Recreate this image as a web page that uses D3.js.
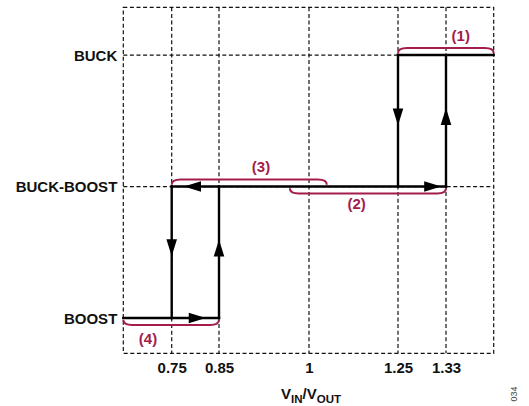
<!DOCTYPE html>
<html>
<head>
<meta charset="utf-8">
<script src="https://cdn.jsdelivr.net/npm/d3@7"></script>
<style>
  html, body { margin: 0; padding: 0; background: #fff; }
  svg { display: block; font-family: "Liberation Sans", Arial, sans-serif; }
</style>
</head>
<body>
<svg id="chart" width="529" height="406"></svg>
<script>
// ---- data ----
const levels = ["BOOST", "BUCK-BOOST", "BUCK"];          // operating modes (bottom → top)
const xTicks = [0.75, 0.85, 1, 1.25, 1.33];               // labelled VIN/VOUT thresholds
const xTickLabels = ["0.75", "0.85", "1", "1.25", "1.33"];
const xEdges = [0.65, 1.43];                               // unlabelled extent of the grid
// hysteresis transfer path: [x0, mode0, x1, mode1]
const pathSegments = [
  [1.25, "BUCK", 1.43, "BUCK"],
  [1.25, "BUCK", 1.25, "BUCK-BOOST"],
  [1.33, "BUCK-BOOST", 1.33, "BUCK"],
  [0.75, "BUCK-BOOST", 1.33, "BUCK-BOOST"],
  [0.75, "BUCK-BOOST", 0.75, "BOOST"],
  [0.85, "BOOST", 0.85, "BUCK-BOOST"],
  [0.65, "BOOST", 0.85, "BOOST"]
];
// arrow tips: x (VIN/VOUT), level position (0 = BOOST … 2 = BUCK), direction
const arrowX = [1.25, 1.33, 0.776, 1.322, 0.75, 0.85, 0.822];
const arrowLevel = [1.464, 1.597, 1, 1, 0.47, 0.597, 0];
const arrowDir = ["down", "up", "left", "right", "down", "up", "right"];
// annotated ranges
const braceLabels = ["(1)", "(2)", "(3)", "(4)"];
const braceFrom = [1.25, 0.968, 0.75, 0.65];
const braceTo = [1.43, 1.33, 1.05, 0.85];
const braceMode = ["BUCK", "BUCK-BOOST", "BUCK-BOOST", "BOOST"];
const braceSide = ["above", "below", "above", "below"];
const braceLabelX = [1.361, 1.134, 0.92, 0.701];

// ---- scales ----
const svg = d3.select("#chart");
const W = 529, H = 406;
svg.append("rect").attr("width", W).attr("height", H).attr("fill", "#fff");

const x = d3.scaleLinear()
  .domain([xEdges[0], ...xTicks, xEdges[1]])
  .range([123.3, 171.7, 219, 309, 398, 446, 493.7]);
const y = d3.scaleLinear().domain([-0.268, 2.363]).range([353.3, 7.3]);
const lv = m => levels.indexOf(m);

const magenta = "#a31c4c";
const dash = "4,2.6";

// ---- grid ----
const grid = svg.append("g").attr("stroke", "#111").attr("stroke-width", 1.2)
  .attr("stroke-dasharray", dash).attr("fill", "none");
grid.append("rect")
  .attr("x", x(xEdges[0])).attr("y", y(y.domain()[1]))
  .attr("width", x(xEdges[1]) - x(xEdges[0]))
  .attr("height", y(y.domain()[0]) - y(y.domain()[1]));
grid.selectAll("line.v").data(xTicks).join("line").attr("class", "v")
  .attr("x1", d => x(d)).attr("x2", d => x(d))
  .attr("y1", y(y.domain()[1])).attr("y2", y(y.domain()[0]));
grid.selectAll("line.h").data(["BUCK", "BUCK-BOOST"]).join("line").attr("class", "h")
  .attr("x1", x(xEdges[0])).attr("x2", x(xEdges[1]))
  .attr("y1", d => y(lv(d))).attr("y2", d => y(lv(d)));

// ---- axes (labels) ----
const xAxis = d3.axisBottom(x).tickValues(xTicks)
  .tickFormat((d, i) => xTickLabels[i]).tickSize(0).tickPadding(0);
const gx = svg.append("g").attr("transform", `translate(0,${y(y.domain()[0])})`).call(xAxis);
gx.select(".domain").remove();
gx.selectAll("text").attr("dy", null).attr("y", 20.2)
  .attr("font-size", 15).attr("font-weight", "bold").attr("fill", "#111")
  .attr("font-family", "Liberation Sans, Arial, sans-serif");

const yAxis = d3.axisLeft(y).tickValues([0, 1, 2])
  .tickFormat(d => levels[d]).tickSize(0).tickPadding(6);
const gy = svg.append("g").attr("transform", `translate(${x(xEdges[0])},0)`).call(yAxis);
gy.select(".domain").remove();
gy.selectAll("text").attr("dy", "0.36em")
  .attr("font-size", 15).attr("font-weight", "bold").attr("fill", "#111")
  .attr("font-family", "Liberation Sans, Arial, sans-serif");

// ---- hysteresis path ----
svg.append("g").attr("stroke", "#000").attr("stroke-width", 2.4).attr("stroke-linecap", "square")
  .selectAll("line").data(pathSegments).join("line")
  .attr("x1", d => x(d[0])).attr("y1", d => y(lv(d[1])))
  .attr("x2", d => x(d[2])).attr("y2", d => y(lv(d[3])));

// arrowheads
const aLen = 17, aHalf = 5.3;
const arrows = arrowX.map((v, i) => ({ x: v, l: arrowLevel[i], dir: arrowDir[i] }));
svg.append("g").attr("fill", "#000").selectAll("path").data(arrows).join("path")
  .attr("d", d => {
    const tx = x(d.x), ty = y(d.l);
    if (d.dir === "down") return `M${tx},${ty}L${tx - aHalf},${ty - aLen}L${tx + aHalf},${ty - aLen}Z`;
    if (d.dir === "up") return `M${tx},${ty}L${tx - aHalf},${ty + aLen}L${tx + aHalf},${ty + aLen}Z`;
    if (d.dir === "left") return `M${tx},${ty}L${tx + aLen},${ty - aHalf}L${tx + aLen},${ty + aHalf}Z`;
    return `M${tx},${ty}L${tx - aLen},${ty - aHalf}L${tx - aLen},${ty + aHalf}Z`;
  });

// ---- braces ----
const braces = braceLabels.map((t, i) => ({
  label: t, x0: braceFrom[i], x1: braceTo[i], mode: braceMode[i], side: braceSide[i], lx: braceLabelX[i]
}));
const bg = svg.append("g");
bg.selectAll("path").data(braces).join("path")
  .attr("fill", "none").attr("stroke", magenta).attr("stroke-width", 2)
  .attr("d", d => {
    const s = d.side === "above" ? -1 : 1;
    const yl = y(lv(d.mode));
    const yEnd = yl + s * 1.8, yTop = yl + s * 7;
    const a = x(d.x0), b = x(d.x1), r = 9;
    return `M${a},${yEnd}Q${a},${yTop} ${a + r},${yTop}L${b - r},${yTop}Q${b},${yTop} ${b},${yEnd}`;
  });
bg.selectAll("text").data(braces).join("text")
  .attr("x", d => x(d.lx))
  .attr("y", d => y(lv(d.mode)) + (d.side === "above" ? -14.5 : (d.mode === "BOOST" ? 25.5 : 22.8)))
  .attr("text-anchor", "middle").attr("font-size", 15).attr("font-weight", "bold")
  .attr("fill", magenta).text(d => d.label);

// ---- axis title ----
const title = svg.append("text").attr("x", x(1) + 2).attr("y", 399)
  .attr("text-anchor", "middle").attr("font-size", 15).attr("font-weight", "bold").attr("fill", "#111");
title.append("tspan").text("V");
title.append("tspan").attr("font-size", 11.5).attr("dy", 3.5).text("IN");
title.append("tspan").attr("dy", -3.5).text("/V");
title.append("tspan").attr("font-size", 11.5).attr("dy", 3.5).text("OUT");

// figure number
svg.append("text").attr("transform", "translate(517,394) rotate(-90)")
  .attr("text-anchor", "middle").attr("font-size", 9).attr("fill", "#444")
  .text("034");
</script>
</body>
</html>
